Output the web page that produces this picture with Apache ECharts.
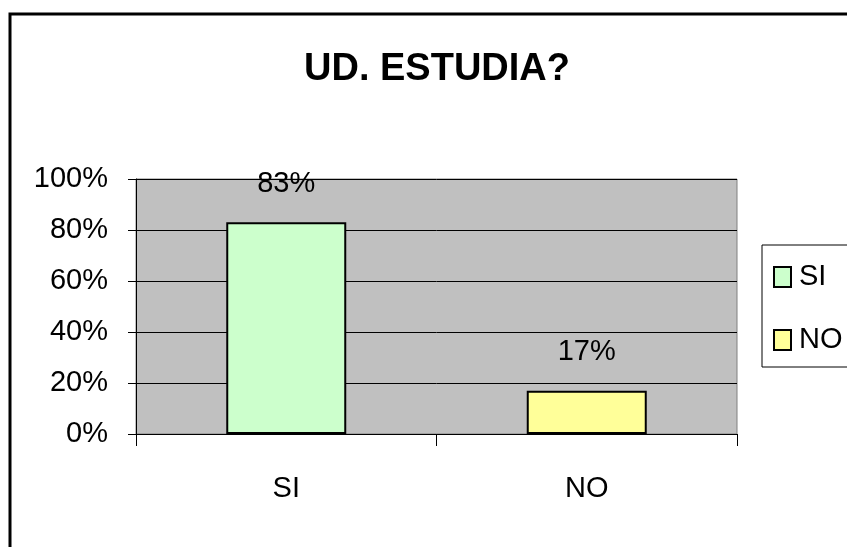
<!DOCTYPE html>
<html>
<head>
<meta charset="utf-8">
<script src="https://cdn.jsdelivr.net/npm/echarts@6/dist/echarts.min.js"></script>
<style>
  html, body { margin: 0; padding: 0; background: #fff; }
  #chart { width: 847px; height: 547px; }
</style>
</head>
<body>
<div id="chart"></div>
<script>
// data
const categories = ["SI", "NO"];
const siValues = [0.83, "-"];
const noValues = ["-", 0.17];
const yTicks = [0, 0.2, 0.4, 0.6, 0.8, 1];

const FONT = "'Liberation Sans Narrow', 'Arial Narrow', 'Liberation Sans', Arial, sans-serif";

function pct(v) {
  return Math.round(v * 100) + "%";
}

let chart = echarts.init(document.getElementById("chart"));
chart.setOption({
  backgroundColor: "#fff",
  animation: false,
  textStyle: { fontFamily: FONT, color: "#000" },
  title: {
    text: "UD. ESTUDIA?",
    left: 432,
    textAlign: "center",
    top: 46,
    textStyle: { fontFamily: FONT, fontSize: 38, fontWeight: "bold", color: "#000" },
  },
  graphic: [
    {
      type: "rect",
      shape: { x: 10, y: 14, width: 900, height: 600 },
      style: { fill: null, stroke: "#000", lineWidth: 3 },
      silent: true,
    },
  ],
  legend: {
    orient: "vertical",
    left: 762,
    top: 245,
    data: ["SI", "NO"],
    icon: "rect",
    itemWidth: 17,
    itemHeight: 20,
    itemGap: 33,
    padding: [17, 40, 12, 11],
    borderColor: "#000",
    borderWidth: 1,
    backgroundColor: "#fff",
    itemStyle: { borderColor: "#000", borderWidth: 2 },
    textStyle: { fontFamily: FONT, fontSize: 29, lineHeight: 30, color: "#000", padding: [0, 0, 0, 3] },
  },
  grid: {
    left: 136,
    top: 179,
    right: 110,
    bottom: 113,
    show: true,
    backgroundColor: "#C0C0C0",
    borderColor: "#808080",
    borderWidth: 1,
  },
  xAxis: {
    type: "category",
    data: categories,
    axisLine: { lineStyle: { color: "#000", width: 1 } },
    axisTick: { show: true, length: 12, lineStyle: { color: "#000" } },
    axisLabel: { fontFamily: FONT, fontSize: 29, color: "#000", margin: 40 },
  },
  yAxis: {
    type: "value",
    min: 0,
    max: 1,
    interval: 0.2,
    axisLine: { show: true, lineStyle: { color: "#000", width: 1 } },
    axisTick: { show: true, length: 8, lineStyle: { color: "#000" } },
    splitLine: { show: true, lineStyle: { color: "#000", width: 1 } },
    axisLabel: {
      fontFamily: FONT,
      fontSize: 29,
      color: "#000",
      margin: 28,
      formatter: function (v) {
        return yTicks.indexOf(Math.round(v * 10) / 10) >= 0 ? pct(v) : "";
      },
    },
  },
  series: [
    {
      name: "SI",
      type: "bar",
      stack: "all",
      data: siValues,
      barWidth: 120,
      itemStyle: { color: "#CCFFCC", borderColor: "#000", borderWidth: 2 },
      label: {
        show: true,
        position: "top",
        distance: 24,
        fontFamily: FONT,
        fontSize: 29,
        color: "#000",
        formatter: function (p) { return pct(p.value); },
      },
    },
    {
      name: "NO",
      type: "bar",
      stack: "all",
      data: noValues,
      barWidth: 120,
      itemStyle: { color: "#FFFF99", borderColor: "#000", borderWidth: 2 },
      label: {
        show: true,
        position: "top",
        distance: 24,
        fontFamily: FONT,
        fontSize: 29,
        color: "#000",
        formatter: function (p) { return pct(p.value); },
      },
    },
  ],
});
</script>
</body>
</html>
